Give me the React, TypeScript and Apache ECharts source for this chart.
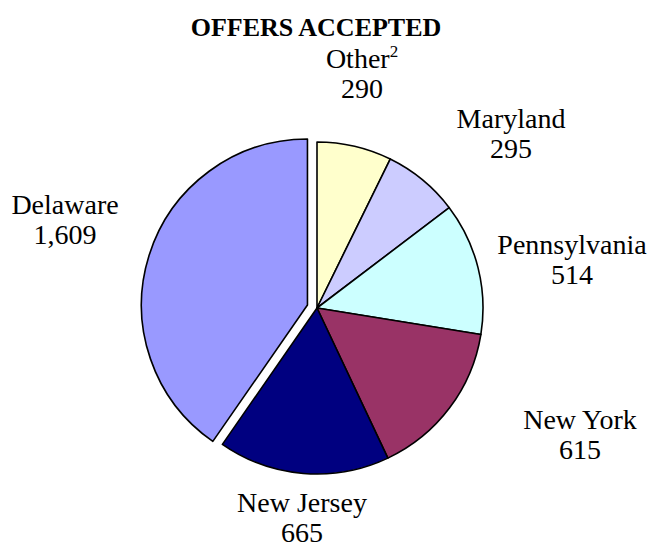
import React, { useEffect, useRef } from "react";
import * as echarts from "echarts";

const categories = ["Other", "Maryland", "Pennsylvania", "New York", "New Jersey", "Delaware"];
const values = [290, 295, 514, 615, 665, 1609];
const valueLabels = ["290", "295", "514", "615", "665", "1,609"];
const colors = ["#FFFFCC", "#CCCCFF", "#CCFFFF", "#993366", "#000080", "#9999FF"];
const labelPos: [number, number][] = [
  [362, 73],
  [511, 133],
  [572, 259],
  [580, 434],
  [302, 517],
  [65, 219],
];

export default function App() {
  const ref = useRef<HTMLDivElement>(null);
  useEffect(() => {
    const chart = echarts.init(ref.current!, null, { renderer: "svg" });
    const font = "'Liberation Serif', 'Times New Roman', serif";
    const rich = {
      n: { fontFamily: font, fontSize: 28, fill: "#000", lineHeight: 30 },
      sup: { fontFamily: font, fontSize: 17, fill: "#000", lineHeight: 20, verticalAlign: "top" },
    };
    const labels = categories.map((c, i) => ({
      type: "text",
      x: labelPos[i][0],
      y: labelPos[i][1],
      silent: true,
      style: {
        text:
          c === "Other"
            ? `{n|Other}{sup|2}\n{n|${valueLabels[i]}}`
            : `{n|${c}}\n{n|${valueLabels[i]}}`,
        rich,
        fontFamily: font,
        fontSize: 28,
        lineHeight: 30,
        fill: "#000",
        align: "center",
        verticalAlign: "middle",
      },
    }));
    chart.setOption({
      animation: false,
      backgroundColor: "#ffffff",
      title: {
        text: "OFFERS ACCEPTED",
        left: 311,
        top: 9,
        textAlign: "center",
        textStyle: { fontFamily: font, fontWeight: "bold", fontSize: 26, color: "#000" },
      },
      graphic: labels,
      series: [
        {
          type: "pie",
          center: [317, 308],
          radius: 166,
          startAngle: 90,
          clockwise: true,
          selectedMode: "single",
          selectedOffset: 10,
          data: categories.map((c, i) => ({
            name: c,
            value: values[i],
            selected: c === "Delaware",
            itemStyle: { color: colors[i] },
          })),
          itemStyle: { borderColor: "#000", borderWidth: 1.6 },
          emphasis: { disabled: true },
          labelLine: { show: false },
          label: { show: false },
        },
      ],
    });
    return () => chart.dispose();
  }, []);
  return <div ref={ref} style={{ position: "fixed", left: 0, top: 0, width: 662, height: 550 }} />;
}
